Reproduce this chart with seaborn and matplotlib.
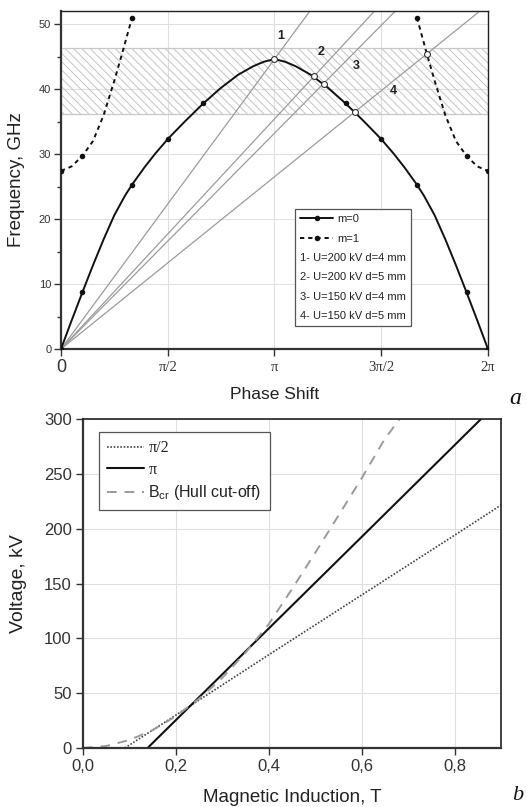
import numpy as np
import pandas as pd
import seaborn as sns
import matplotlib.pyplot as plt
from matplotlib.ticker import MultipleLocator

# ---- panel a: dispersion (phase in units of pi, frequency in GHz)
m0_phase = [0, 0.05, 0.1, 0.15, 0.2, 0.25, 0.3, 0.333, 0.39, 0.44, 0.5, 0.58, 0.667, 0.75, 0.83, 0.9, 0.95, 1.0,
            1.05, 1.1, 1.17, 1.25, 1.333, 1.42, 1.5, 1.56, 1.61, 1.667, 1.7, 1.75, 1.8, 1.85, 1.9, 1.95, 2.0]
m0_freq = [0, 4.4, 8.7, 12.9, 16.9, 20.6, 23.6, 25.3, 27.9, 30.0, 32.3, 35.0, 37.8, 40.2, 42.2, 43.5, 44.2, 44.6,
           44.2, 43.5, 42.2, 40.2, 37.8, 35.0, 32.3, 30.0, 27.9, 25.3, 23.6, 20.6, 16.9, 12.9, 8.7, 4.4, 0]
m0_marks = [0, 2, 7, 10, 12, 22, 24, 27, 32, 34]

m1_left_phase = [0, 0.05, 0.1, 0.15, 0.2, 0.25, 0.285, 0.333]
m1_left_freq = [27.4, 28.1, 29.7, 32.0, 36.0, 41.3, 45.3, 51.0]
m1_left_marks = [0, 2, 7]
m1_right_phase = [1.667, 1.715, 1.75, 1.8, 1.85, 1.9, 1.95, 2.0]
m1_right_freq = [51.0, 45.3, 41.3, 36.0, 32.0, 29.7, 28.1, 27.4]
m1_right_marks = [0, 5, 7]

beam_names = ['1', '2', '3', '4']
beam_end_freq = [89.2, 70.8, 66.4, 53.0]          # value of each beam line at phase 2*pi
beam_label_phase = [1.028, 1.22, 1.383, 1.556]
beam_label_freq = [48.2, 45.7, 43.5, 39.7]
legend_notes = ['1- U=200 kV d=4 mm', '2- U=200 kV d=5 mm',
                '3- U=150 kV d=4 mm', '4- U=150 kV d=5 mm']

cross_phase = [1.0, 1.187, 1.23, 1.378, 1.715]
cross_freq = [44.6, 42.0, 40.8, 36.5, 45.4]

band_low, band_high = 36.2, 46.3

# ---- panel b: voltage vs magnetic induction
half_pi_B = [0.09, 0.2, 0.4, 0.6, 0.8, 0.9]
half_pi_V = [0, 30, 85, 139.5, 194, 221.5]
pi_B = [0.139, 0.4, 0.6, 0.857]
pi_V = [0, 109, 192.5, 300]
hull_B = [0.0, 0.05, 0.1, 0.15, 0.2, 0.25, 0.3, 0.35, 0.4, 0.45, 0.5, 0.55, 0.6, 0.65, 0.682]
hull_V = [0, 1.8, 7.3, 16.3, 29, 45, 64, 87, 113, 145, 178, 212, 246, 282, 300]

sns.set_style("ticks")
plt.rcParams['font.family'] = ['Liberation Sans', 'DejaVu Sans']
plt.rcParams['mathtext.fontset'] = 'custom'
plt.rcParams['mathtext.rm'] = 'Liberation Sans'
plt.rcParams['mathtext.it'] = 'Liberation Sans:italic'
plt.rcParams['hatch.linewidth'] = 0.7
plt.rcParams['hatch.color'] = '#c4c4c4'

fig = plt.figure(figsize=(5.27, 8.07), dpi=100)
ax1 = fig.add_axes([0.1157, 0.5675, 0.8102, 0.4188])
ax2 = fig.add_axes([0.1575, 0.0731, 0.7932, 0.4077])

# ---------------- panel a
PI = np.pi
ax1.fill_between([0, 2 * PI], band_low, band_high, facecolor='none', hatch='\\\\\\\\',
                 edgecolor='#c4c4c4', linewidth=0, zorder=1)
ax1.axhline(band_low, color='#c8c8c8', lw=0.9, zorder=1)
ax1.axhline(band_high, color='#c8c8c8', lw=0.9, zorder=1)

for end, name in zip(beam_end_freq, beam_names):
    sns.lineplot(x=[0, 2 * PI], y=[0, end], ax=ax1, color='#9c9c9c', lw=0.9, zorder=2)
for ph, fr, name in zip(beam_label_phase, beam_label_freq, beam_names):
    ax1.text(ph * PI, fr, name, ha='center', va='center', fontsize=9, fontweight='bold', color='#222')

m0 = pd.DataFrame({'x': np.array(m0_phase) * PI, 'y': m0_freq})
sns.lineplot(data=m0, x='x', y='y', ax=ax1, sort=False, estimator=None, color='#111', lw=1.4,
             marker='o', markersize=4, markevery=m0_marks, markeredgewidth=0, zorder=4, label='m=0')
for ph, fr, mk in [(m1_left_phase, m1_left_freq, m1_left_marks),
                   (m1_right_phase, m1_right_freq, m1_right_marks)]:
    d = pd.DataFrame({'x': np.array(ph) * PI, 'y': fr})
    sns.lineplot(data=d, x='x', y='y', ax=ax1, sort=False, estimator=None, color='#111', lw=1.4,
                 linestyle=(0, (2.2, 2)), marker='o', markersize=4, markevery=mk,
                 markeredgewidth=0, zorder=4)
sns.scatterplot(x=np.array(cross_phase) * PI, y=cross_freq, ax=ax1, marker='o', s=18,
                facecolor='white', edgecolor='#333', linewidth=0.8, zorder=5)

ax1.set_xlim(0, 2 * PI)
ax1.set_ylim(0, 52)
ax1.set_xticks([0, PI / 2, PI, 3 * PI / 2, 2 * PI])
ax1.set_xticklabels(['0', 'π/2', 'π', '3π/2', '2π'])
for i, t in enumerate(ax1.get_xticklabels()):
    if i == 0:
        t.set_fontsize(13)
    else:
        t.set_fontfamily('Liberation Serif')
        t.set_fontsize(10.5)
        t.set_y(-0.008)
ax1.yaxis.set_major_locator(MultipleLocator(10))
ax1.yaxis.set_minor_locator(MultipleLocator(5))
ax1.tick_params(axis='y', which='major', labelsize=8, length=5, width=1, colors='#333', pad=2)
ax1.tick_params(axis='y', which='minor', length=3, width=1, colors='#333')
ax1.tick_params(axis='x', length=5, width=1, colors='#333', pad=2)
ax1.grid(True, color='#e0e0e0', lw=0.8, zorder=0)
ax1.set_axisbelow(True)
ax1.set_xlabel('Phase Shift', fontsize=12.5, color='#222')
ax1.set_ylabel('Frequency, GHz', fontsize=13.5, color='#222')
ax1.xaxis.set_label_coords(0.5, -0.112)
ax1.yaxis.set_label_coords(-0.085, 0.5)

handles, labels = ax1.get_legend_handles_labels()
h_m1 = plt.Line2D([], [], color='#111', lw=1.4, linestyle=(0, (2.2, 2)), marker='o', markersize=4, markeredgewidth=0)
blank = [plt.Line2D([], [], alpha=0) for _ in legend_notes]
leg1 = ax1.legend([handles[0], h_m1] + blank, ['m=0', 'm=1'] + legend_notes,
                  loc='upper left', bbox_to_anchor=(0.548, 0.414), borderaxespad=0, fontsize=8,
                  handlelength=3.0, handletextpad=0.4, labelspacing=0.85, borderpad=0.45,
                  fancybox=False, framealpha=1, edgecolor='#555')
leg1.get_frame().set_linewidth(0.9)
for t in leg1.get_texts():
    t.set_color('#222')
# text-only rows: drop the handle area so the text starts at the handle column
for col in leg1._legend_handle_box.get_children():
    for row in col.get_children()[2:]:
        da = row.get_children()[0]
        da.width = 0
        row.sep = 0

for side in ['left', 'bottom']:
    ax1.spines[side].set_linewidth(1.6)
    ax1.spines[side].set_color('#333')
for side in ['top', 'right']:
    ax1.spines[side].set_linewidth(1.0)
    ax1.spines[side].set_color('#222')

# ---------------- panel b
sns.lineplot(x=half_pi_B, y=half_pi_V, ax=ax2, color='#444', lw=1.2, linestyle=(0, (1, 1)),
             sort=False, estimator=None, label='π/2')
sns.lineplot(x=pi_B, y=pi_V, ax=ax2, color='#111', lw=1.5, sort=False, estimator=None, label='π')
sns.lineplot(x=hull_B, y=hull_V, ax=ax2, color='#9a9a9a', lw=1.4, linestyle=(0, (5, 4)),
             sort=False, estimator=None, label=r'B$_{\mathrm{cr}}$ (Hull cut-off)')

ax2.set_xlim(0, 0.9)
ax2.set_ylim(0, 300)
ax2.set_xticks([0, 0.2, 0.4, 0.6, 0.8])
ax2.set_xticklabels(['0,0', '0,2', '0,4', '0,6', '0,8'])
ax2.yaxis.set_major_locator(MultipleLocator(50))
ax2.tick_params(labelsize=12, length=5, width=1, colors='#333', pad=3)
ax2.grid(True, color='#e0e0e0', lw=0.8)
ax2.set_axisbelow(True)
ax2.set_xlabel('Magnetic Induction, T', fontsize=13.5, color='#222')
ax2.set_ylabel('Voltage, kV', fontsize=14, color='#222')
ax2.xaxis.set_label_coords(0.5, -0.125)
ax2.yaxis.set_label_coords(-0.135, 0.5)

leg2 = ax2.legend(loc='upper left', bbox_to_anchor=(0.038, 0.96), borderaxespad=0, fontsize=11.5,
                  handlelength=2.3, handletextpad=0.3, labelspacing=0.35, borderpad=0.5,
                  fancybox=False, framealpha=1, edgecolor='#555')
leg2.get_frame().set_linewidth(0.9)
for i, t in enumerate(leg2.get_texts()):
    t.set_color('#222')
    if i < 2:
        t.set_fontfamily('Liberation Serif')

for side in ['left', 'bottom']:
    ax2.spines[side].set_linewidth(1.6)
    ax2.spines[side].set_color('#333')
for side in ['top', 'right']:
    ax2.spines[side].set_linewidth(1.2)
    ax2.spines[side].set_color('#222')

fig.text(515 / 527, 1 - 404 / 807, 'a', fontsize=17, fontstyle='italic', family='Liberation Serif',
         ha='center', va='baseline', color='#111')
fig.text(518 / 527, 1 - 800 / 807, 'b', fontsize=16, fontstyle='italic', family='Liberation Serif',
         ha='center', va='baseline', color='#111')

fig.savefig('out.png', dpi=100)
